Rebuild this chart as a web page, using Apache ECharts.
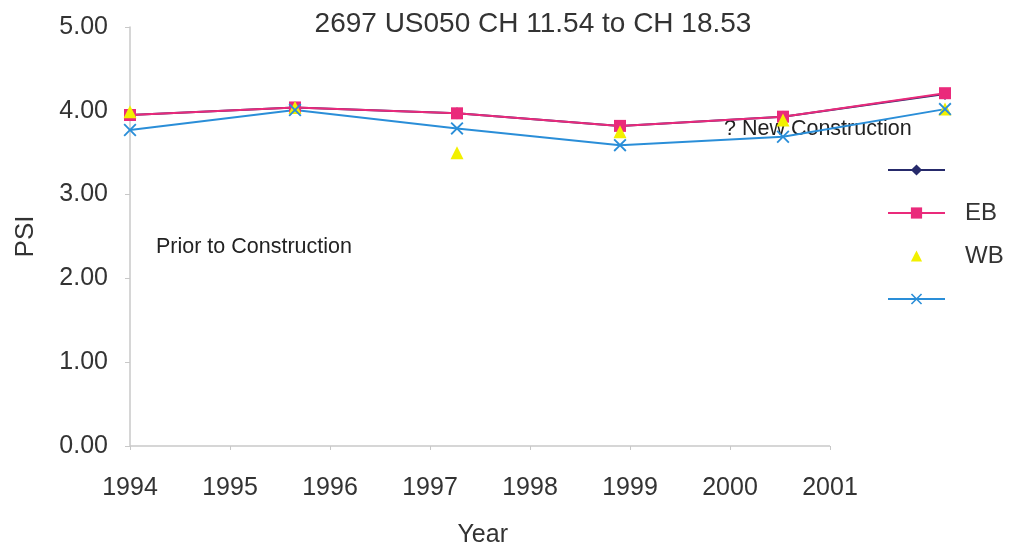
<!DOCTYPE html>
<html>
<head>
<meta charset="utf-8">
<script src="https://cdn.jsdelivr.net/npm/echarts@6/dist/echarts.min.js"></script>
<style>
  html, body { margin: 0; padding: 0; background: #fff; }
  #chart { width: 1013px; height: 552px; }
</style>
</head>
<body>
<div id="chart"></div>
<script>
// survey dates (decimal year) and PSI readings
const years = [1994.0, 1995.65, 1997.27, 1998.9, 2000.53, 2002.15];
const diamondVals = [3.95, 4.04, 3.97, 3.82, 3.93, 4.20];
const ebVals = [3.95, 4.04, 3.97, 3.82, 3.93, 4.21];
const wbVals = [3.99, 4.04, 3.50, 3.75, 3.89, 4.02];
const crossVals = [3.77, 4.01, 3.79, 3.59, 3.69, 4.02];
const yearTicks = [1994, 1995, 1996, 1997, 1998, 1999, 2000, 2001];
const yTicks = [0, 1, 2, 3, 4, 5];

const pair = (vals) => vals.map((v, i) => [years[i], v]);
const font = "'Liberation Sans', Arial, sans-serif";
const crossPath = "path://M0,1L1,0L5,4L9,0L10,1L6,5L10,9L9,10L5,6L1,10L0,9L4,5Z";
const axisGray = "#c8c8c8";

const chart = echarts.init(document.getElementById("chart"));
chart.setOption({
  animation: false,
  backgroundColor: "#fff",
  title: {
    text: "2697 US050 CH 11.54 to CH 18.53",
    left: 528,
    textAlign: "center",
    top: 5,
    textStyle: { fontFamily: font, fontSize: 28, fontWeight: "normal", color: "#333" },
  },
  grid: { left: 130, right: 58, top: 27, bottom: 106 },
  legend: {
    orient: "vertical",
    left: 882,
    top: 153,
    itemWidth: 57,
    itemHeight: 14,
    itemGap: 19,
    data: ["s1", "EB", "WB", "s4"],
    formatter: (name) => (name === "EB" || name === "WB" ? name : " "),
    textStyle: { fontFamily: font, fontSize: 24, color: "#333", padding: [0, 0, 0, 15] },
  },
  xAxis: {
    type: "value",
    min: 1994,
    max: 2002.25,
    name: "Year",
    nameLocation: "start",
    nameGap: -378,
    nameTextStyle: { fontFamily: font, fontSize: 25, color: "#333", verticalAlign: "top", padding: [77, 0, 0, 0] },
    axisLine: { show: false },
    axisTick: { show: true, length: 4, customValues: yearTicks, lineStyle: { color: axisGray } },
    axisLabel: {
      fontFamily: font, fontSize: 25, color: "#333", margin: 30,
      customValues: yearTicks, formatter: (v) => String(v),
    },
    splitLine: { show: false },
  },
  yAxis: {
    type: "value",
    min: yTicks[0],
    max: yTicks[yTicks.length - 1],
    interval: 1,
    name: "PSI",
    nameLocation: "middle",
    nameGap: 91,
    nameTextStyle: { fontFamily: font, fontSize: 26, color: "#333" },
    axisLine: { show: true, lineStyle: { color: axisGray, width: 1.5 } },
    axisTick: { show: true, length: 5, lineStyle: { color: axisGray } },
    axisLabel: { fontFamily: font, fontSize: 25, color: "#333", margin: 22, formatter: (v) => v.toFixed(2) },
    splitLine: { show: false },
  },
  graphic: [
    {
      type: "text", left: 724, top: 118,
      style: { text: "? New Construction", font: "21.5px " + font, fill: "#222" },
    },
    {
      type: "text", left: 156, top: 236,
      style: { text: "Prior to Construction", font: "21.5px " + font, fill: "#222" },
    },
  ],
  series: [
    {
      name: "s1", type: "line", data: pair(diamondVals), clip: false,
      symbol: "diamond", symbolSize: 12, showAllSymbol: true,
      lineStyle: { color: "#262a6b", width: 2 },
      itemStyle: { color: "#262a6b" },
      // x axis line only spans the labelled years
      markLine: {
        silent: true, symbol: "none", label: { show: false },
        lineStyle: { color: axisGray, width: 1.5, type: "solid" },
        data: [[{ coord: [yearTicks[0], 0] }, { coord: [yearTicks[yearTicks.length - 1], 0] }]],
      },
    },
    {
      name: "EB", type: "line", data: pair(ebVals), clip: false,
      symbol: "rect", symbolSize: 12,
      lineStyle: { color: "#ea2a7b", width: 2 },
      itemStyle: { color: "#ea2a7b" },
    },
    {
      name: "WB", type: "line", data: pair(wbVals), clip: false,
      symbol: "triangle", symbolSize: 13,
      lineStyle: { opacity: 0 },
      itemStyle: { color: "#f2f000" },
    },
    {
      name: "s4", type: "line", data: pair(crossVals), clip: false,
      symbol: crossPath, symbolSize: 13,
      lineStyle: { color: "#2a8ed8", width: 2 },
      itemStyle: { color: "#2a8ed8" },
    },
  ],
});
</script>
</body>
</html>
